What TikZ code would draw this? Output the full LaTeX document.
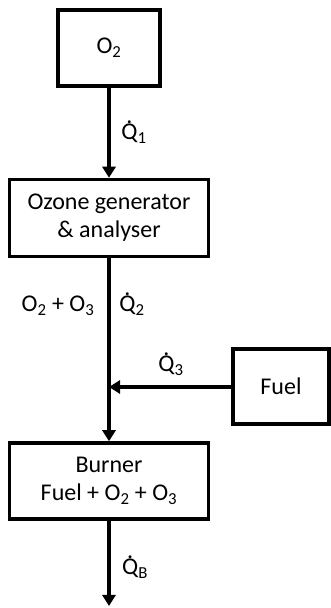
\documentclass[tikz,border=0pt]{standalone}
\usepackage{fontspec}
\setmainfont{Carlito}
\usepackage{tikz}
\usetikzlibrary{positioning,arrows.meta}

\newcommand{\qflow}[1]{\ooalign{Q\cr\hidewidth\raisebox{0.68em}{.}\hidewidth\cr}\textsubscript{#1}}

\begin{document}
\begin{tikzpicture}[
x=1pt, y=1pt,
font=\fontsize{24}{28}\selectfont,
unit/.style={draw, line width=3.5pt, inner sep=0pt, align=center},
flow/.style={-{Triangle[length=11pt,width=13pt]}, line width=3.5pt},
lbl/.style={inner sep=0pt}
]
\useasboundingbox (0,0) rectangle (331,608);
\node[unit, minimum width=102pt, minimum height=76pt] (oxy) at (109,560) {O\textsubscript{2}};
\node[unit, minimum width=199pt, minimum height=77pt] (ozone) at (109,390) {Ozone generator\\\& analyser};
\node[unit, minimum width=96pt, minimum height=75pt] (fuel) at (281,221.5) {Fuel};
\node[unit, minimum width=199pt, minimum height=76pt] (burner) at (109,127) {Burner\\Fuel + O\textsubscript{2} + O\textsubscript{3}};
\coordinate (mix) at (109,221);
\coordinate (out) at (109,2);
\draw[flow] (oxy) -- (ozone);
\draw[line width=3.5pt] (ozone) -- (mix);
\draw[flow] (fuel.west |- mix) -- (mix);
\draw[flow] (mix) -- (burner);
\draw[flow] (burner) -- (out);
% labels
\node[lbl] (q1) at (134,474) {\qflow{1}};
\node[lbl] (q2) at (132,302) {\qflow{2}};
\node[lbl] (mixgas) at (58,302) {O\textsubscript{2} + O\textsubscript{3}};
\node[lbl] (q3) at (171,242) {\qflow{3}};
\node[lbl] (qb) at (135,39) {\qflow{B}};
\end{tikzpicture}
\end{document}
